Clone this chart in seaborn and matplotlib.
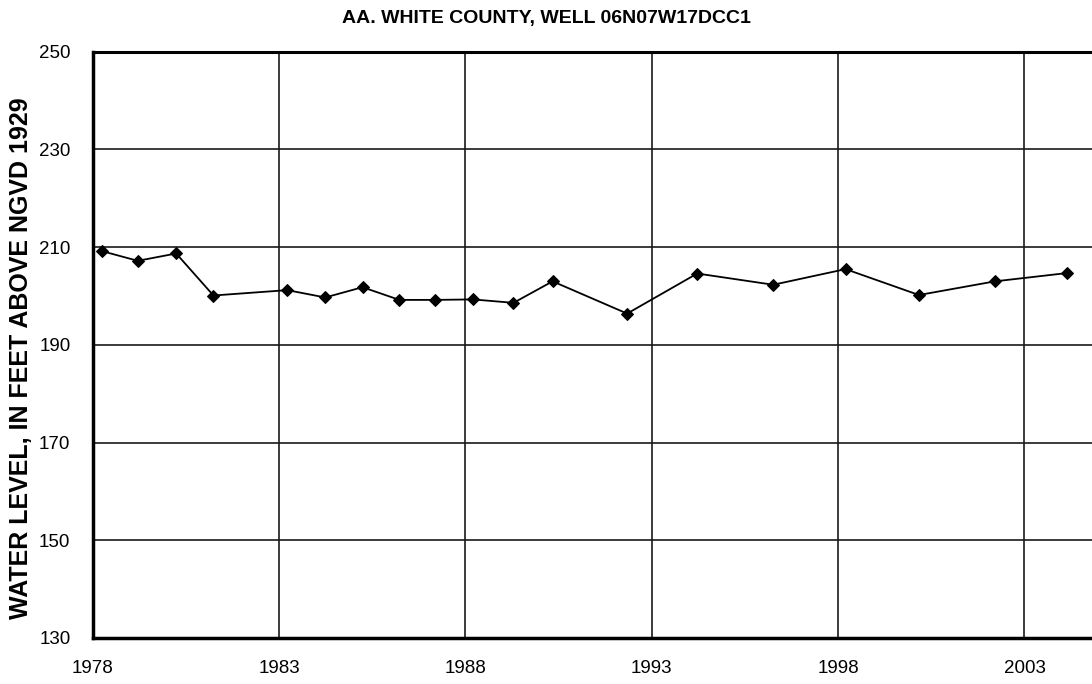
import matplotlib
matplotlib.use("Agg")
import matplotlib.pyplot as plt
import seaborn as sns
import pandas as pd

years = [1978.24, 1979.21, 1980.24, 1981.24, 1983.22, 1984.24, 1985.24, 1986.23,
         1987.19, 1988.20, 1989.29, 1990.34, 1992.34, 1994.22, 1996.26, 1998.20,
         2000.17, 2002.21, 2004.15]
levels = [209.2, 207.2, 208.7, 200.1, 201.2, 199.7, 201.8, 199.2,
          199.2, 199.3, 198.6, 203.0, 196.4, 204.6, 202.3, 205.5,
          200.2, 203.0, 204.7]
xticks = [1978, 1983, 1988, 1993, 1998, 2003]
yticks = [130, 150, 170, 190, 210, 230, 250]
title = "AA. WHITE COUNTY, WELL 06N07W17DCC1"
ylabel = "WATER LEVEL, IN FEET ABOVE NGVD 1929"

df = pd.DataFrame({"year": years, "level": levels})

sns.set_theme(style="white")
plt.rcParams["font.family"] = ["Liberation Sans", "DejaVu Sans"]
plt.rcParams["text.color"] = "black"
plt.rcParams["xtick.color"] = "black"
plt.rcParams["ytick.color"] = "black"

W, H = 1092, 684
fig = plt.figure(figsize=(W / 100, H / 100), dpi=100)
left_px, top_px, bottom_px = 92.7, 51.7, 638.0
px_per_year = 37.27
xmax = 2005
right_px = left_px + (xmax - 1978) * px_per_year
ax = fig.add_axes([left_px / W, 1 - bottom_px / H, (right_px - left_px) / W,
                   (bottom_px - top_px) / H])

sns.lineplot(data=df, x="year", y="level", ax=ax, color="black", linewidth=1.3,
             marker="D", markersize=6.5, markeredgecolor="black",
             markerfacecolor="black", zorder=3)

ax.set_xlim(1978, xmax)
ax.set_ylim(130, 250)
ax.set_xticks(xticks)
ax.set_yticks(yticks)
ax.set_xticklabels([str(t) for t in xticks], fontsize=13.5, color="black")
ax.set_yticklabels([str(t) for t in yticks], fontsize=13.5, color="black")
ax.tick_params(axis="both", length=0, colors="black")
ax.tick_params(axis="y", pad=16)
ax.tick_params(axis="x", pad=16)

ax.grid(True, color="#1a1a1a", linewidth=1.2)
for s in ["left", "bottom", "top"]:
    ax.spines[s].set_visible(True)
    ax.spines[s].set_color("black")
ax.spines["left"].set_linewidth(2.5)
ax.spines["bottom"].set_linewidth(2.5)
ax.spines["top"].set_linewidth(2.2)
ax.spines["right"].set_visible(False)

ax.set_xlabel("")
ax.set_ylabel("")
fig.text(21 / W, 1 - 358 / H, ylabel, rotation=90, ha="center", va="center",
         fontsize=18, fontweight="bold", color="black")
fig.text(0.5, 1 - 19 / H, title, ha="center", va="center", fontsize=14,
         fontweight="bold", color="black")

fig.savefig("out.png", dpi=100)
